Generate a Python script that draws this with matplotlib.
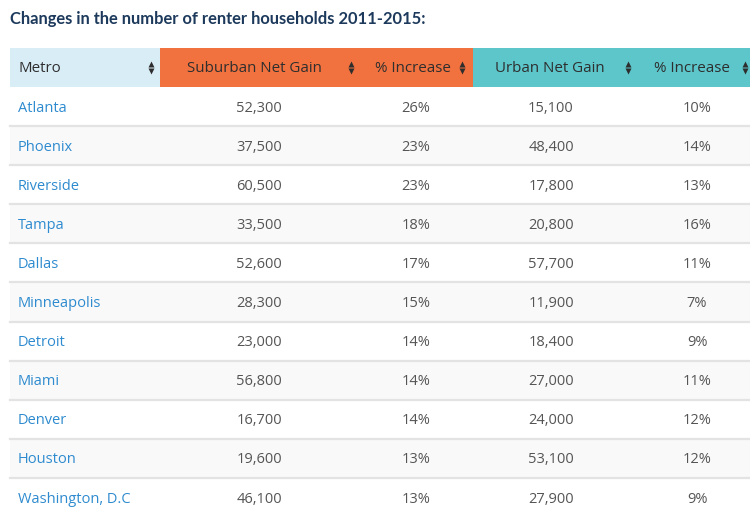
import matplotlib
matplotlib.use("Agg")
import matplotlib.pyplot as plt
from matplotlib.patches import Rectangle

# table data
metros = ["Atlanta", "Phoenix", "Riverside", "Tampa", "Dallas", "Minneapolis",
          "Detroit", "Miami", "Denver", "Houston", "Washington, D.C"]
suburban_gain = [52300, 37500, 60500, 33500, 52600, 28300, 23000, 56800, 16700, 19600, 46100]
suburban_pct = [26, 23, 23, 18, 17, 15, 14, 14, 14, 13, 13]
urban_gain = [15100, 48400, 17800, 20800, 57700, 11900, 18400, 27000, 24000, 53100, 27900]
urban_pct = [10, 14, 13, 16, 11, 7, 9, 11, 12, 12, 9]
headers = ["Metro", "Suburban Net Gain", "% Increase", "Urban Net Gain", "% Increase"]

W, H = 750, 511
fig = plt.figure(figsize=(W / 100, H / 100), dpi=100)
ax = fig.add_axes([0, 0, 1, 1])
ax.set_xlim(0, W)
ax.set_ylim(H, 0)
ax.axis("off")

body_font = "Open Sans"
title_col = "#1d3a5c"
head_txt = "#2e2e2e"
cell_txt = "#555555"
link_col = "#2e8bcf"

ax.text(10, 19, "Changes in the number of renter households 2011-2015:",
        fontfamily="Lato", fontweight="bold", fontsize=11.9, color=title_col,
        va="center", ha="left")

# header
top, hh = 48, 39
col_edges = [10, 160, 473, 760]
col_fill = ["#d9edf7", "#f2723f", "#5cc6cb"]
for i, c in enumerate(col_fill):
    ax.add_patch(Rectangle((col_edges[i], top), col_edges[i + 1] - col_edges[i], hh,
                           facecolor=c, edgecolor="none"))

head_x = [18, 254, 413, 550, 692]
head_ha = ["left", "center", "center", "center", "center"]
icon_x = [151, 351, 462, 628, 745]
yc = top + hh / 2
for t, x, ha, ix in zip(headers, head_x, head_ha, icon_x):
    ax.text(x, yc + 1.5, t, fontfamily=body_font, fontsize=10.9,
            color=head_txt, ha=ha, va="center")
    ax.plot(ix, yc - 3.2, marker="^", markersize=4.6, color=head_txt, mec="none")
    ax.plot(ix, yc + 3.2, marker="v", markersize=4.6, color=head_txt, mec="none")

# body rows
rh = 39.1
y0 = top + hh
for r, m in enumerate(metros):
    ry = y0 + r * rh
    if r % 2 == 1:
        ax.add_patch(Rectangle((10, ry), W, rh, facecolor="#f9f9f9", edgecolor="none"))
    if r > 0:
        ax.plot([10, W], [ry, ry], color="#e3e3e3", lw=1.6)
    cy = ry + rh / 2 + 1.5
    ax.text(18, cy, m, fontfamily=body_font, fontsize=10.5, color=link_col,
            ha="left", va="center")
    vals = [f"{suburban_gain[r]:,}", f"{suburban_pct[r]}%",
            f"{urban_gain[r]:,}", f"{urban_pct[r]}%"]
    for v, x in zip(vals, [259, 416, 551, 697]):
        ax.text(x, cy, v, fontfamily=body_font, fontsize=10.5, color=cell_txt,
                ha="center", va="center")

fig.savefig("out.png", dpi=100)
